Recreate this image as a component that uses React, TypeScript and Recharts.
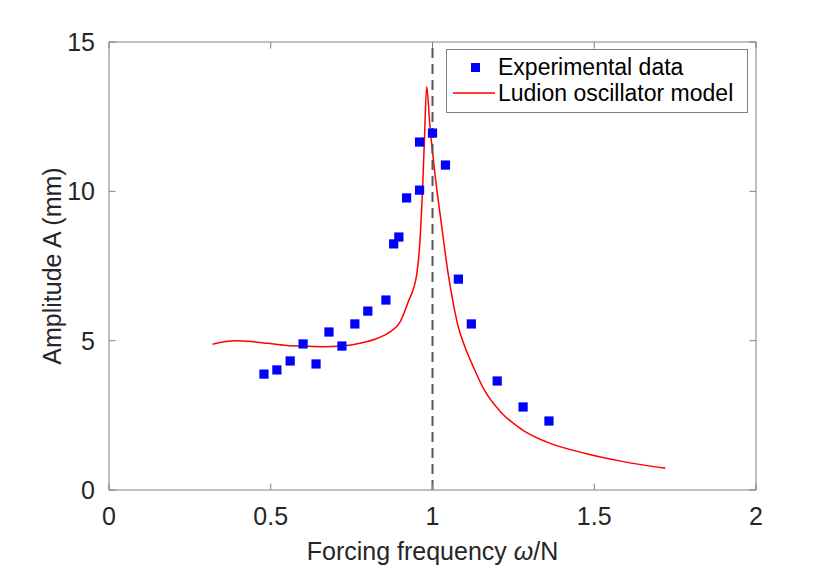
import {
  ComposedChart, Line, Scatter, XAxis, YAxis, ZAxis, ReferenceLine,
} from 'recharts'

// Experimental points (forcing frequency ω/N, amplitude in mm)
const expFreq = [0.479, 0.519, 0.56, 0.60, 0.64, 0.68, 0.72, 0.76, 0.80, 0.856, 0.88, 0.896, 0.92, 0.96, 0.96, 1.0, 1.04, 1.08, 1.12, 1.2, 1.28, 1.36]
const expAmp = [3.88, 4.02, 4.32, 4.89, 4.22, 5.29, 4.82, 5.56, 5.99, 6.36, 8.24, 8.47, 9.78, 10.04, 11.65, 11.95, 10.88, 7.06, 5.56, 3.65, 2.78, 2.31]

// Ludion oscillator model curve
const modelFreq = [0.32, 0.36, 0.39, 0.44, 0.49, 0.55, 0.60, 0.66, 0.72, 0.78, 0.83, 0.87, 0.90, 0.925, 0.951, 0.961, 0.969, 0.975, 0.982, 0.992, 1.008, 1.028, 1.049, 1.065, 1.08, 1.10, 1.126, 1.16, 1.21, 1.28, 1.35, 1.47, 1.59, 1.72]
const modelAmp = [4.88, 4.97, 5.0, 4.97, 4.91, 4.84, 4.82, 4.80, 4.82, 4.92, 5.08, 5.30, 5.63, 6.30, 7.2, 8.3, 10.0, 11.7, 13.5, 12.2, 10.55, 8.87, 7.2, 6.2, 5.45, 4.8, 4.13, 3.35, 2.62, 2.0, 1.62, 1.23, 0.95, 0.73]

const xTicks = [0, 0.5, 1, 1.5, 2]
const yTicks = [0, 5, 10, 15]

const expData = expFreq.map((x, i) => ({ x, y: expAmp[i] }))
const modelData = modelFreq.map((x, i) => ({ x, y: modelAmp[i] }))

const FONT = '"Liberation Sans", Arial, Helvetica, sans-serif'
const AXIS = '#808080'
const TEXT = '#262626'
const TICK_LEN = 6.5
const X_GAP = 17
const Y_GAP = 14

// MATLAB-style ticks: short marks pointing into the plot box
function BottomTick({ x, y, payload }: any) {
  const y0 = y - X_GAP
  return (
    <g>
      <line x1={x} y1={y0} x2={x} y2={y0 - TICK_LEN} stroke={AXIS} />
      <text x={x} y={y} dy="0.71em" textAnchor="middle" fontFamily={FONT} fontSize={25} fill={TEXT}>
        {payload.value}
      </text>
    </g>
  )
}

function TopTick({ x, y }: any) {
  return <line x1={x} y1={y} x2={x} y2={y + TICK_LEN} stroke={AXIS} />
}

function LeftTick({ x, y, payload }: any) {
  const x0 = x + Y_GAP
  return (
    <g>
      <line x1={x0} y1={y} x2={x0 + TICK_LEN} y2={y} stroke={AXIS} />
      <text x={x} y={y} dy="0.355em" textAnchor="end" fontFamily={FONT} fontSize={25} fill={TEXT}>
        {payload.value}
      </text>
    </g>
  )
}

function RightTick({ x, y }: any) {
  return <line x1={x} y1={y} x2={x - TICK_LEN} y2={y} stroke={AXIS} />
}

function XLabel({ viewBox }: any) {
  const { x, y, width } = viewBox
  return (
    <text x={x + width / 2} y={y + 70} textAnchor="middle" fontFamily={FONT} fontSize={25} fill={TEXT}>
      Forcing frequency <tspan fontStyle="italic">ω</tspan>/N
    </text>
  )
}

function YLabel({ viewBox }: any) {
  const { x, y, height } = viewBox
  const cx = x + 12
  const cy = y + height / 2
  return (
    <text x={cx} y={cy} textAnchor="middle" fontFamily={FONT} fontSize={25} fill={TEXT}
      transform={`rotate(-90, ${cx}, ${cy})`}>
      Amplitude A (mm)
    </text>
  )
}

function LegendBox() {
  return (
    <div style={{
      position: 'absolute', left: 446, top: 49, width: 302, height: 64,
      boxSizing: 'border-box', border: `1px solid ${AXIS}`, background: '#fff',
    }}>
      <svg width={300} height={62} style={{ position: 'absolute', left: 0, top: 0 }}>
        <rect x={24} y={13} width={9} height={9} fill="#0000ff" />
        <line x1={6} y1={43} x2={48} y2={43} stroke="#ff0000" strokeWidth={1.5} />
        <text x={51} y={25} fontFamily={FONT} fontSize={23} fill="#000">Experimental data</text>
        <text x={51} y={51} fontFamily={FONT} fontSize={23} fill="#000">Ludion oscillator model</text>
      </svg>
    </div>
  )
}

export default function App() {
  return (
    <div style={{ position: 'absolute', left: 0, top: 0, width: 836, height: 566, background: '#fff' }}>
      <ComposedChart width={836} height={566} margin={{ top: 41, right: 79, bottom: 46, left: 49 }}>
        <XAxis dataKey="x" type="number" domain={[0, 2]} ticks={xTicks} interval={0} allowDataOverflow
          height={30} tickSize={0} tickMargin={X_GAP} tick={<BottomTick />}
          axisLine={{ stroke: AXIS }} tickLine={false} label={XLabel} />
        <XAxis xAxisId="top" orientation="top" dataKey="x" type="number" domain={[0, 2]} ticks={xTicks}
          interval={0} allowDataOverflow height={1} tickSize={0} tickMargin={0} tick={<TopTick />}
          axisLine={{ stroke: AXIS }} tickLine={false} />
        <YAxis dataKey="y" type="number" domain={[0, 15]} ticks={yTicks} interval={0} allowDataOverflow
          width={60} tickSize={0} tickMargin={Y_GAP} tick={<LeftTick />}
          axisLine={{ stroke: AXIS }} tickLine={false} label={YLabel} />
        <YAxis yAxisId="right" orientation="right" dataKey="y" type="number" domain={[0, 15]} ticks={yTicks}
          interval={0} allowDataOverflow width={1} tickSize={0} tickMargin={0} tick={<RightTick />}
          axisLine={{ stroke: AXIS }} tickLine={false} />
        <ZAxis range={[85, 85]} />
        <Line data={modelData} dataKey="y" type="monotone" stroke="#ff0000" strokeWidth={1.5}
          dot={false} activeDot={false} isAnimationActive={false} name="Ludion oscillator model" />
        <Scatter data={expData} dataKey="y" shape="square" fill="#0000ff"
          isAnimationActive={false} name="Experimental data" />
        <ReferenceLine x={1} stroke="#555555" strokeWidth={2} strokeDasharray="10 6" />
      </ComposedChart>
      <LegendBox />
    </div>
  )
}
